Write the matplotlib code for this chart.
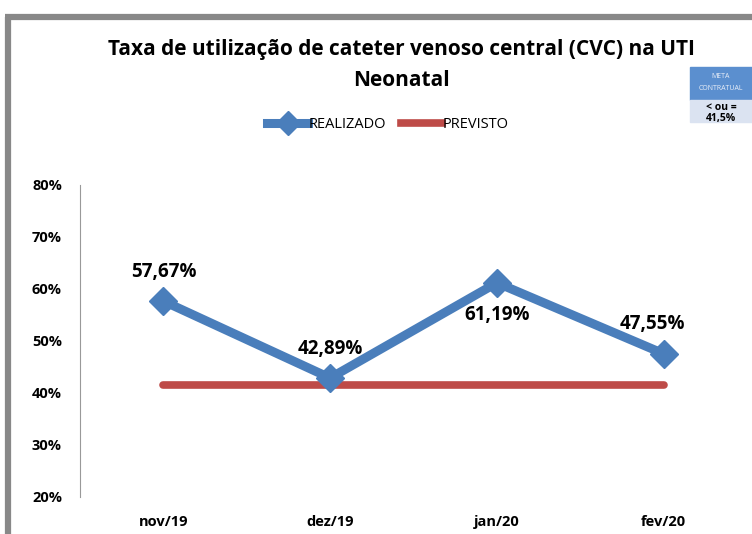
import matplotlib.pyplot as plt
from matplotlib.patches import Rectangle
from matplotlib.lines import Line2D

meses = ['nov/19', 'dez/19', 'jan/20', 'fev/20']
realizado = [57.67, 42.89, 61.19, 47.55]
previsto = [41.5, 41.5, 41.5, 41.5]
rotulos = ['57,67%', '42,89%', '61,19%', '47,55%']
y_ticks = [20, 30, 40, 50, 60, 70, 80]

plt.rcParams['font.family'] = ['Open Sans', 'DejaVu Sans']

azul = '#4a7ebb'
vermelho = '#be4b48'

fig = plt.figure(figsize=(7.52, 5.34), dpi=100)
W, H = 752, 534

# moldura cinza (esquerda e topo)
fig.add_artist(Line2D([7.5 / W, 7.5 / W], [0, 1 - 17 / H], color='#888888', lw=4.5,
                      transform=fig.transFigure, solid_capstyle='butt'))
fig.add_artist(Line2D([5 / W, 1], [1 - 17 / H, 1 - 17 / H], color='#888888', lw=4.5,
                      transform=fig.transFigure, solid_capstyle='butt'))

ax = fig.add_axes([80 / W, 37 / H, (747 - 80) / W, (497 - 185) / H])
x = list(range(len(meses)))
ax.plot(x, previsto, color=vermelho, lw=5.5, solid_capstyle='round', zorder=2)
ax.plot(x, realizado, color=azul, lw=6.5, marker='D', markersize=14,
        solid_capstyle='round', zorder=3)

offsets = [(0, 14), (0, 14), (0, -16), (-8, 14)]
vas = ['bottom', 'bottom', 'top', 'bottom']
for i, (v, r) in enumerate(zip(realizado, rotulos)):
    ax.annotate(r, (i, v), xytext=offsets[i], textcoords='offset points',
                ha='center', va=vas[i], fontsize=13.5, fontweight='bold')

ax.set_xlim(-0.5, 3.5)
ax.set_ylim(20, 80)
ax.set_yticks(y_ticks)
ax.set_yticklabels([f'{t}%' for t in y_ticks], fontsize=10.5, fontweight='bold')
ax.set_xticks(x)
ax.set_xticklabels(meses, fontsize=10.5, fontweight='bold')
ax.tick_params(length=0)
ax.tick_params(axis='y', pad=13)
ax.tick_params(axis='x', pad=13)
for s in ['top', 'right', 'bottom']:
    ax.spines[s].set_visible(False)
ax.spines['left'].set_color('#999999')

fig.text(401 / W, 1 - 50 / H, 'Taxa de utilização de cateter venoso central (CVC) na UTI',
         ha='center', va='center', fontsize=15, fontweight='bold')
fig.text(401 / W, 1 - 80 / H, 'Neonatal', ha='center', va='center',
         fontsize=15, fontweight='bold')

# legenda
h1 = Line2D([], [], color=azul, lw=6.5, marker='D', markersize=12)
h2 = Line2D([], [], color=vermelho, lw=5.5)
fig.legend([h1, h2], ['REALIZADO', 'PREVISTO'], loc='center',
           bbox_to_anchor=(388 / W, 1 - 125 / H), ncol=2, frameon=False,
           fontsize=10.5, handlelength=2.8, handletextpad=0.05, columnspacing=1.0)

# caixa meta contratual
fig.add_artist(Rectangle((690 / W, 1 - 100 / H), 62 / W, 33 / H, color='#5b8fcf',
                         transform=fig.transFigure))
fig.add_artist(Rectangle((690 / W, 1 - 122 / H), 62 / W, 22 / H, color='#dbe3f1',
                         transform=fig.transFigure))
fig.text(721 / W, 1 - 77 / H, 'META', ha='center', va='center', fontsize=5,
         color='#e8eef8')
fig.text(721 / W, 1 - 89 / H, 'CONTRATUAL', ha='center', va='center', fontsize=5,
         color='#e8eef8')
fig.text(721 / W, 1 - 108 / H, '< ou =', ha='center', va='center', fontsize=7.5,
         fontweight='bold')
fig.text(721 / W, 1 - 119 / H, '41,5%', ha='center', va='center', fontsize=7.5,
         fontweight='bold')

fig.savefig('out.png', dpi=100)
